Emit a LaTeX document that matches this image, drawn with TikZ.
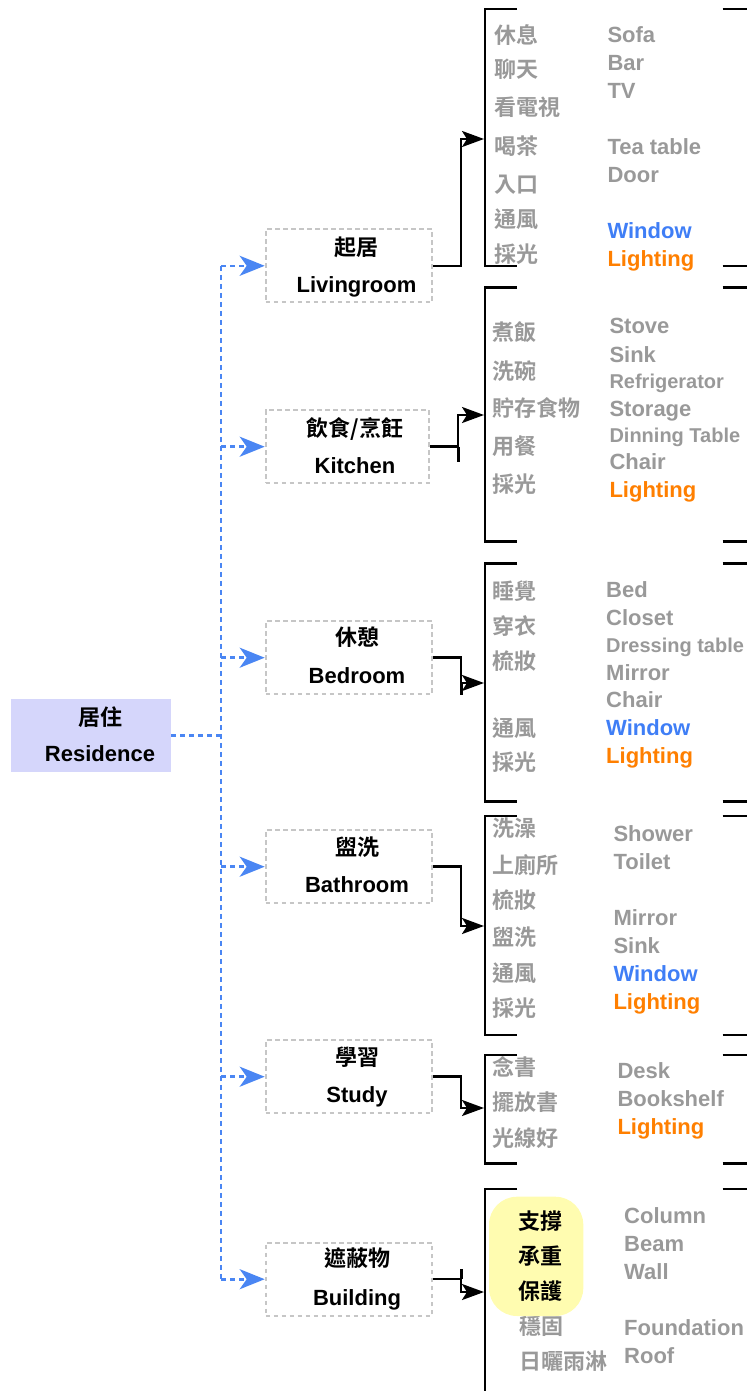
\documentclass[tikz,border=0pt]{standalone}
\usepackage{fontspec}
\setmainfont{Liberation Sans}
\newfontfamily\cjk{Noto Sans CJK TC}[BoldFont={Noto Sans CJK TC Bold}]
\usetikzlibrary{arrows.meta}
\definecolor{txtgray}{HTML}{999999}
\definecolor{boxgray}{HTML}{C6C6C6}
\definecolor{cblue}{HTML}{4A86F3}
\definecolor{tblue}{HTML}{3F7EF6}
\definecolor{torange}{HTML}{FF7F00}
\definecolor{resfill}{HTML}{D5D6FB}
\definecolor{ylw}{HTML}{FFFCB0}
\tikzset{
  zh/.style={anchor=base west, inner sep=0pt, yshift=-8.4pt, text=txtgray, font=\cjk\bfseries\fontsize{22}{22}\selectfont},
  zhk/.style={anchor=base west, inner sep=0pt, yshift=-8.4pt, text=black, font=\cjk\bfseries\fontsize{22}{22}\selectfont},
  en/.style={anchor=base west, inner sep=0pt, yshift=-7.9pt, text=txtgray, font=\bfseries\fontsize{22}{22}\selectfont},
  ensm/.style={anchor=base west, inner sep=0pt, yshift=-7.2pt, text=txtgray, font=\bfseries\fontsize{20}{20}\selectfont},
  zhlab/.style={anchor=base, inner sep=0pt, yshift=-8.4pt, text=black, font=\cjk\bfseries\fontsize{22}{22}\selectfont},
  enlab/.style={anchor=base, inner sep=0pt, yshift=-7.9pt, text=black, font=\bfseries\fontsize{22}{22}\selectfont},
  roombox/.style={draw=boxgray, line width=2pt, dash pattern=on 4.5pt off 3.5pt, minimum height=73pt, inner sep=0pt},
  brk/.style={line width=2.5pt, black, line join=miter},
  conn/.style={line width=2.5pt, black, line join=miter, -{Stealth[length=22pt,width=16pt,inset=5pt]}},
  stub/.style={line width=3pt, black},
  bluedash/.style={draw=cblue, line width=2.6pt, dash pattern=on 5pt off 4pt},
  bluearr/.style={bluedash, -{Stealth[length=25pt,width=20pt,inset=7pt]}},
}
\begin{document}
\begin{tikzpicture}[x=1pt,y=-1pt]
\useasboundingbox (0,0) rectangle (747,1391);

% ---------- brackets ----------
\foreach \t/\b in {9/266, 287.3/541.7, 563.3/801.7, 816/1035, 1055/1163.3}{
  \draw[brk] (517,\t) -- (485,\t) -- (485,\b) -- (517,\b);
  \draw[brk] (722.7,\t) -- (747,\t) (722.7,\b) -- (747,\b);
}
\draw[brk] (517,1189) -- (485,1189) -- (485,1391);
\draw[brk] (722.7,1189) -- (747,1189);

% ---------- residence ----------
\node[fill=resfill, minimum width=160pt, minimum height=72.7pt, inner sep=0pt] (res) at (91,735.3) {};
\node[zhlab] (reszh) at (100,716.7) {居住};
\node[enlab] (resen) at (100,754) {Residence};

% ---------- room boxes ----------
\node[roombox, minimum width=166.6pt] (lr) at (349,265.8) {};
\node[roombox, minimum width=163.6pt] (kit) at (347.5,446.7) {};
\node[roombox, minimum width=166.6pt] (bed) at (349,657.7) {};
\node[roombox, minimum width=166.6pt] (bath) at (349,866.7) {};
\node[roombox, minimum width=166.6pt] (st) at (349,1076.7) {};
\node[roombox, minimum width=166.6pt] (bld) at (349,1279.2) {};

\node[zhlab] (lrzh) at (356.5,246.7) {起居};
\node[enlab] (lren) at (356.5,284.7) {Livingroom};
\node[zhlab] (kitzh) at (355,428.3) {飲食/烹飪};
\node[enlab] (kiten) at (355,465.7) {Kitchen};
\node[zhlab] (bedzh) at (357,637.3) {休憩};
\node[enlab] (beden) at (357,675.7) {Bedroom};
\node[zhlab] (bathzh) at (357,847.3) {盥洗};
\node[enlab] (bathen) at (357,884.3) {Bathroom};
\node[zhlab] (stzh) at (357,1056.7) {學習};
\node[enlab] (sten) at (357,1095) {Study};
\node[zhlab] (bldzh) at (357,1258) {遮蔽物};
\node[enlab] (blden) at (357,1298) {Building};

% ---------- blue dashed tree ----------
\coordinate (tr) at (221,0);
\draw[bluedash] (res.east) -- (res.east -| tr);
\draw[bluedash] (tr |- lr.west) -- (tr |- bld.west);
\foreach \n in {lr,kit,bed,bath,st,bld}{
  \draw[bluearr] (tr |- \n.west) -- (\n.west);
}

% ---------- black connectors ----------
\coordinate (lrin) at (484,139);
\coordinate (kitin) at (484,415);
\coordinate (bedin) at (484,683);
\coordinate (bathin) at (484,926);
\coordinate (stin) at (484,1108);
\coordinate (bldin) at (484,1292);

\draw[conn] (lr.east) -- ++(27.7,0) |- (lrin);
\draw[conn] (kit.east) -- ++(27.7,0) coordinate (kitk) |- (kitin);
\draw[stub] (kitk) -- ++(0,15.5);
\draw[conn] (bed.east) -- ++(27.7,0) |- (bedin);
\draw[stub] (bedin -| bed.east) ++(27.7,0) -- ++(0,12);
\draw[conn] (bath.east) -- ++(27.7,0) |- (bathin);
\draw[conn] (st.east) -- ++(27.7,0) |- (stin);
\draw[conn] (bld.east) -- ++(27.7,0) coordinate (bldk) |- (bldin);
\draw[stub] (bldk) -- ++(0,-10);

% ---------- Livingroom contents ----------
\node[zh] (z11) at (494,34.7) {休息};
\node[zh] (z12) at (494,68.7) {聊天};
\node[zh] (z13) at (494,107) {看電視};
\node[zh] (z14) at (494,146) {喝茶};
\node[zh] (z15) at (494,184) {入口};
\node[zh] (z16) at (494,219) {通風};
\node[zh] (z17) at (494,254) {採光};
\node[en] (e11) at (607.3,35) {Sofa};
\node[en] (e12) at (607.3,63) {Bar};
\node[en] (e13) at (607.3,90.5) {TV};
\node[en] (e14) at (607.3,147) {Tea table};
\node[en] (e15) at (607.3,175) {Door};
\node[en, text=tblue] (e16) at (607.3,230.5) {Window};
\node[en, text=torange] (e17) at (607.3,258.7) {Lighting};

% ---------- Kitchen contents ----------
\node[zh] (z21) at (492.7,332.5) {煮飯};
\node[zh] (z22) at (492.7,371) {洗碗};
\node[zh] (z23) at (492.7,408.5) {貯存食物};
\node[zh] (z24) at (492.7,446) {用餐};
\node[zh] (z25) at (492.7,484) {採光};
\node[en] (e21) at (609.3,326) {Stove};
\node[en] (e22) at (609.3,354.5) {Sink};
\node[ensm] (e23) at (609.3,381) {Refrigerator};
\node[en] (e24) at (609.3,408.7) {Storage};
\node[ensm] (e25) at (609.3,435) {Dinning Table};
\node[en] (e26) at (609.3,461.5) {Chair};
\node[en, text=torange] (e27) at (609.3,490) {Lighting};

% ---------- Bedroom contents ----------
\node[zh] (z31) at (492.7,591) {睡覺};
\node[zh] (z32) at (492.7,626) {穿衣};
\node[zh] (z33) at (492.7,661) {梳妝};
\node[zh] (z34) at (492.7,728) {通風};
\node[zh] (z35) at (492.7,762.5) {採光};
\node[en] (e31) at (606,589.5) {Bed};
\node[en] (e32) at (606,618) {Closet};
\node[ensm] (e33) at (606,645.5) {Dressing table};
\node[en] (e34) at (606,672.5) {Mirror};
\node[en] (e35) at (606,699.5) {Chair};
\node[en, text=tblue] (e36) at (606,728) {Window};
\node[en, text=torange] (e37) at (606,756) {Lighting};

% ---------- Bathroom contents ----------
\node[zh] (z41) at (492.7,828) {洗澡};
\node[zh] (z42) at (492.7,865) {上廁所};
\node[zh] (z43) at (492.7,900) {梳妝};
\node[zh] (z44) at (492.7,937.5) {盥洗};
\node[zh] (z45) at (492.7,973) {通風};
\node[zh] (z46) at (492.7,1008) {採光};
\node[en] (e41) at (613.3,834) {Shower};
\node[en] (e42) at (613.3,861.5) {Toilet};
\node[en] (e43) at (613.3,918) {Mirror};
\node[en] (e44) at (613.3,946) {Sink};
\node[en, text=tblue] (e45) at (613.3,974) {Window};
\node[en, text=torange] (e46) at (613.3,1002) {Lighting};

% ---------- Study contents ----------
\node[zh] (z51) at (492.7,1067.5) {念書};
\node[zh] (z52) at (492.7,1102.5) {擺放書};
\node[zh] (z53) at (492.7,1138) {光線好};
\node[en] (e51) at (617.3,1071) {Desk};
\node[en] (e52) at (617.3,1099) {Bookshelf};
\node[en, text=torange] (e53) at (617.3,1127) {Lighting};

% ---------- Building contents ----------
\node[zh] (z61) at (519.3,1326) {穩固};
\node[zh] (z62) at (519.3,1361) {日曬雨淋};
\node[fill=ylw, rounded corners=28pt, minimum width=94.3pt, minimum height=119.3pt, inner sep=0pt] (yb) at (536.15,1256.35) {};
\node[zhk] (k61) at (518.3,1221.5) {支撐};
\node[zhk] (k62) at (518.3,1256) {承重};
\node[zhk] (k63) at (518.3,1291) {保護};
\node[en] (e61) at (624,1216) {Column};
\node[en] (e62) at (624,1244) {Beam};
\node[en] (e63) at (624,1271.5) {Wall};
\node[en] (e64) at (624,1328) {Foundation};
\node[en] (e65) at (624,1356) {Roof};
\end{tikzpicture}
\end{document}
